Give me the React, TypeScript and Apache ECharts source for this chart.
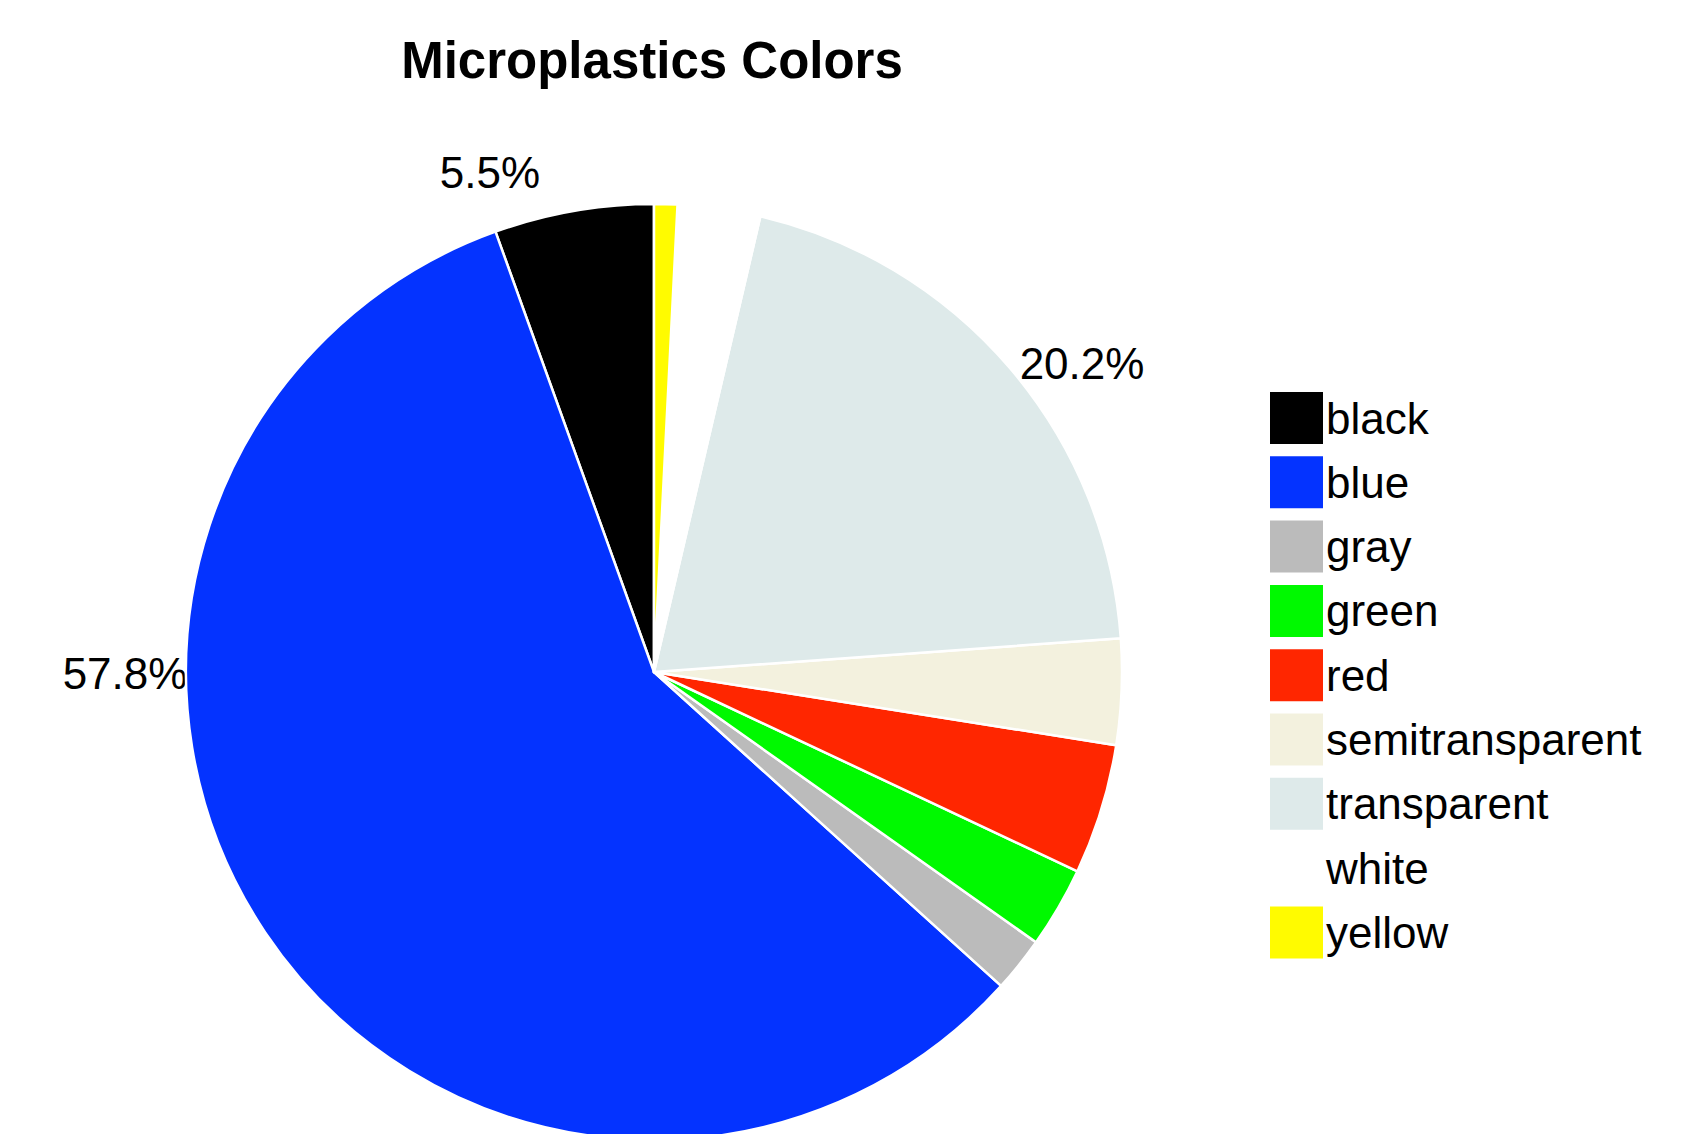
import React, { useEffect, useRef } from "react";
import * as echarts from "echarts";

const categories = ["black", "blue", "gray", "green", "red", "semitransparent", "transparent", "white", "yellow"];
const shares = [5.5, 57.8, 1.9, 2.8, 4.5, 3.65, 20.2, 2.85, 0.8];
const sliceColors = ["#000000", "#0433FF", "#BBBBBB", "#00F900", "#FF2600", "#F3F1DE", "#DEEAEA", "#FFFFFF", "#FFFB00"];
const labelTexts = ["5.5%", "57.8%", "20.2%"];
const titleText = "Microplastics Colors";

const FONT = "'Liberation Sans', Arial, Helvetica, sans-serif";

export default function App() {
  const ref = useRef<HTMLDivElement>(null);
  useEffect(() => {
    document.body.style.margin = "0";
    if (!ref.current) return;
    const chart = echarts.init(ref.current, undefined, { renderer: "svg" });
    const labelPos: [number, number][] = [
      [490, 172],
      [125, 673],
      [1082, 363],
    ];
    chart.setOption({
      animation: false,
      backgroundColor: "#ffffff",
      legend: {
        orient: "vertical",
        left: 1268,
        top: 390,
        padding: 0,
        itemWidth: 55,
        itemHeight: 54,
        itemGap: 8.3,
        icon: "rect",
        selectedMode: false,
        data: categories,
        textStyle: { fontFamily: FONT, fontSize: 44, color: "#000000", padding: [0, 0, 0, -3] },
      },
      series: [
        {
          type: "pie",
          center: [654, 672],
          radius: [0, 468],
          startAngle: 90,
          clockwise: false,
          avoidLabelOverlap: false,
          silent: true,
          label: { show: false },
          labelLine: { show: false },
          emphasis: { disabled: true },
          itemStyle: { borderColor: "#ffffff", borderWidth: 2.5 },
          data: categories.map((c, i) => ({
            name: c,
            value: shares[i],
            itemStyle: { color: sliceColors[i] },
          })),
        },
      ],
      graphic: [
        {
          type: "text",
          x: 652,
          y: 60,
          style: {
            text: titleText,
            fontFamily: FONT,
            fontSize: 51,
            fontWeight: "bold",
            fill: "#000000",
            align: "center",
            verticalAlign: "middle",
          },
        },
        ...labelTexts.map((t, i) => ({
          type: "text",
          x: labelPos[i][0],
          y: labelPos[i][1],
          style: {
            text: t,
            fontFamily: FONT,
            fontSize: 44,
            fill: "#000000",
            align: "center",
            verticalAlign: "middle",
          },
        })),
      ],
    });
    return () => chart.dispose();
  }, []);
  return <div ref={ref} style={{ width: 1702, height: 1134 }} />;
}
